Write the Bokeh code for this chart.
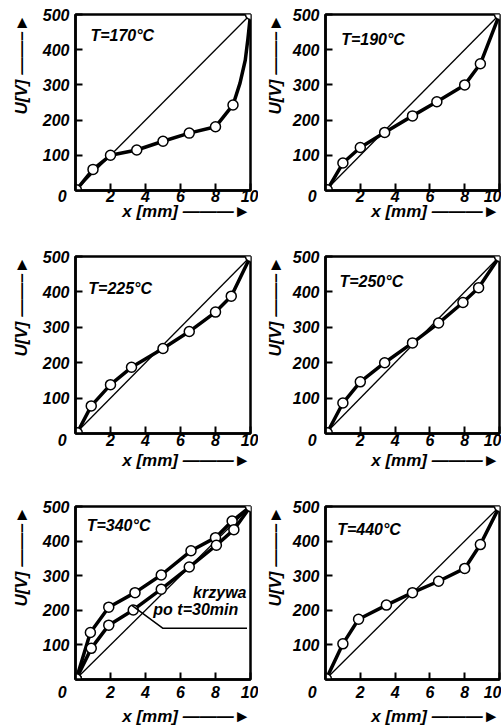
from bokeh.plotting import figure
from bokeh.layouts import column, row
from bokeh.models import Label, FixedTicker, Range1d, Title
from bokeh.embed import file_html
from bokeh.resources import INLINE

# ---------------- data ----------------
x_ticks = [0, 2, 4, 6, 8, 10]
y_ticks = [100, 200, 300, 400, 500]
diag_x = [0, 10]
diag_y = [0, 500]

titles = ["T=170°C", "T=190°C", "T=225°C", "T=250°C", "T=340°C", "T=440°C"]

t170_x = [0.05, 1.0, 2.0, 3.5, 5.0, 6.5, 8.0, 9.0, 10.0]
t170_y = [2, 60, 100, 115, 140, 163, 181, 243, 500]
t170_curve_x = [0.05, 1.0, 2.0, 3.5, 5.0, 6.5, 8.0, 9.0, 9.4, 9.7, 9.85, 10.0]
t170_curve_y = [2, 60, 100, 115, 140, 163, 181, 243, 305, 370, 430, 500]

t190_x = [0.1, 1.0, 2.0, 3.4, 5.0, 6.4, 8.0, 8.9, 10.0]
t190_y = [2, 78, 122, 165, 212, 252, 300, 360, 500]

t225_x = [0.1, 0.9, 2.0, 3.2, 5.0, 6.5, 8.0, 8.9, 10.0]
t225_y = [2, 78, 138, 187, 240, 288, 343, 388, 500]

t250_x = [0.1, 1.0, 2.0, 3.4, 5.0, 6.5, 7.9, 8.8, 10.0]
t250_y = [2, 86, 146, 200, 256, 312, 370, 412, 500]

t340_x = [0.05, 0.85, 1.9, 3.4, 4.9, 6.6, 8.0, 8.95, 10.0]
t340_y = [2, 136, 209, 251, 302, 372, 410, 458, 500]

t340_30min_x = [0.05, 0.9, 1.9, 3.3, 4.9, 6.5, 8.05, 9.05, 10.0]
t340_30min_y = [2, 90, 157, 201, 261, 325, 388, 433, 500]

t440_x = [0.05, 1.0, 1.9, 3.5, 5.0, 6.5, 8.0, 8.9, 10.0]
t440_y = [2, 103, 174, 215, 251, 284, 321, 390, 500]

# ---------------- styling ----------------
FONT = "Liberation Sans"
STYLE = "bold italic"
NB = "\u00a0"
Y_LABEL = "U[V] \u2014\u2014\u2013\u25BA"
X_LABEL = "x [mm] \u2014\u2014\u2014\u25BA"

LEFT_W = dict(left=75, frame=175, right=8, ylab_std=18)
RIGHT_W = dict(left=64, frame=177, right=2, ylab_std=10)
ROWS = [dict(top=14, frame=176, bottom=54, tick_std=-3, xlab_std=-15),
        dict(top=12, frame=177, bottom=61, tick_std=-2, xlab_std=-6),
        dict(top=12, frame=177, bottom=44, tick_std=4, xlab_std=3)]


def make_panel(col, r, title, title_pos, series):
    cw = LEFT_W if col == 0 else RIGHT_W
    rw = ROWS[r]
    W = cw["left"] + cw["frame"] + cw["right"]
    H = rw["top"] + rw["frame"] + rw["bottom"]
    p = figure(width=W, height=H, output_backend="svg", toolbar_location=None,
               x_range=Range1d(0, 10), y_range=Range1d(0, 500),
               min_border_left=cw["left"], min_border_right=cw["right"],
               min_border_top=rw["top"], min_border_bottom=rw["bottom"])
    p.grid.visible = False
    p.outline_line_color = "black"
    p.outline_line_width = 2.5
    p.background_fill_color = "white"
    p.border_fill_color = "white"
    for ax in (p.xaxis[0], p.yaxis[0]):
        ax.axis_line_width = 2.5
        ax.major_tick_in = 7
        ax.major_tick_out = 0
        ax.major_tick_line_width = 2
        ax.minor_tick_line_color = None
        ax.major_label_text_font = FONT
        ax.major_label_text_font_style = STYLE
        ax.major_label_text_font_size = "16px"
        ax.major_label_text_color = "black"
    p.xaxis.ticker = FixedTicker(ticks=x_ticks)
    p.yaxis.ticker = FixedTicker(ticks=y_ticks)
    p.xaxis.major_label_overrides = {0: "0" + NB * 6}
    p.xaxis.major_label_standoff = rw["tick_std"]
    p.yaxis.major_label_standoff = 6

    # axis titles with arrows, aligned to the end of each axis
    p.add_layout(Title(text=X_LABEL, align="right", standoff=rw["xlab_std"],
                       text_font=FONT, text_font_style=STYLE, text_font_size="17px",
                       text_color="black"), "below")
    p.add_layout(Title(text=Y_LABEL, align="right", standoff=cw["ylab_std"],
                       text_font=FONT, text_font_style=STYLE, text_font_size="17px",
                       text_color="black"), "left")

    # diagonal reference line
    p.line(diag_x, diag_y, line_color="black", line_width=1.3)
    for (cx, cy, mx, my) in series:
        p.line(cx, cy, line_color="black", line_width=3.5, line_join="round")
        p.scatter(mx, my, marker="circle", size=10, fill_color="white",
                  line_color="black", line_width=1.5)

    p.add_layout(Label(x=title_pos[0], y=title_pos[1], text=title,
                       text_font=FONT, text_font_style=STYLE, text_font_size="16px",
                       text_color="black", text_baseline="middle", text_align="left"))
    return p


p1 = make_panel(0, 0, titles[0], (0.85, 440),
                [(t170_curve_x, t170_curve_y, t170_x, t170_y)])
p2 = make_panel(1, 0, titles[1], (0.9, 428),
                [(t190_x, t190_y, t190_x, t190_y)])
p3 = make_panel(0, 1, titles[2], (0.73, 410),
                [(t225_x, t225_y, t225_x, t225_y)])
p4 = make_panel(1, 1, titles[3], (0.8, 428),
                [(t250_x, t250_y, t250_x, t250_y)])
p5 = make_panel(0, 2, titles[4], (0.64, 445),
                [(t340_x, t340_y, t340_x, t340_y),
                 (t340_30min_x, t340_30min_y, t340_30min_x, t340_30min_y)])
p6 = make_panel(1, 2, titles[5], (0.67, 434),
                [(t440_x, t440_y, t440_x, t440_y)])

# annotation in the T=340 °C panel
p5.add_layout(Label(x=9.77, y=252, text="krzywa", text_font=FONT, text_font_style=STYLE,
                    text_font_size="16px", text_color="black",
                    text_baseline="middle", text_align="right"))
p5.add_layout(Label(x=9.3, y=203, text="po t=30min", text_font=FONT, text_font_style=STYLE,
                    text_font_size="16px", text_color="black",
                    text_baseline="middle", text_align="right"))
p5.line([3.2, 5.0, 9.8], [215, 148, 148], line_color="black", line_width=1.5)

layout = column(row(p1, p2), row(p3, p4), row(p5, p6))

with open("out.html", "w") as f:
    f.write(file_html(layout, INLINE))
